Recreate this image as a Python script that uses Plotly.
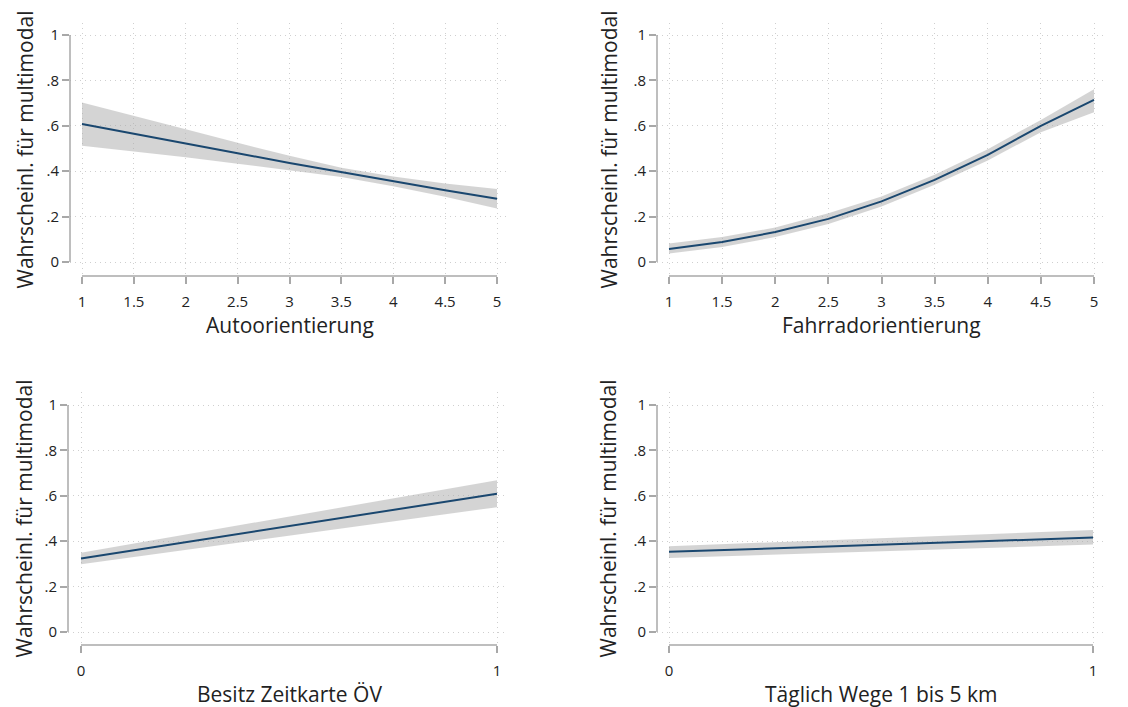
import plotly.graph_objects as go

# the page body adds an 8px offset; the figure is sized and positioned to compensate
OFF = 8
W, H = 1128 - OFF, 707 - OFF

# ---------------- data ----------------
auto_x = [1, 1.5, 2, 2.5, 3, 3.5, 4, 4.5, 5]
auto_y = [0.608, 0.566, 0.523, 0.479, 0.436, 0.395, 0.355, 0.316, 0.279]
auto_lo = [0.512, 0.488, 0.462, 0.433, 0.404, 0.375, 0.334, 0.287, 0.236]
auto_hi = [0.703, 0.645, 0.585, 0.525, 0.468, 0.415, 0.377, 0.346, 0.322]

rad_x = [1, 1.5, 2, 2.5, 3, 3.5, 4, 4.5, 5]
rad_y = [0.057, 0.088, 0.132, 0.190, 0.267, 0.362, 0.472, 0.600, 0.714]
rad_lo = [0.037, 0.066, 0.110, 0.167, 0.245, 0.340, 0.447, 0.572, 0.660]
rad_hi = [0.081, 0.110, 0.152, 0.215, 0.289, 0.384, 0.497, 0.626, 0.761]

oev_x = [0, 1]
oev_y = [0.324, 0.609]
oev_lo = [0.299, 0.550]
oev_hi = [0.349, 0.668]

km_x = [0, 1]
km_y = [0.353, 0.416]
km_lo = [0.326, 0.385]
km_hi = [0.378, 0.449]

y_ticks = [0, 0.2, 0.4, 0.6, 0.8, 1]
y_ticktext = ["0", ".2", ".4", ".6", ".8", "1"]
x_ticks_cont = [1, 1.5, 2, 2.5, 3, 3.5, 4, 4.5, 5]
x_ticktext_cont = ["1", "1.5", "2", "2.5", "3", "3.5", "4", "4.5", "5"]
x_ticks_bin = [0, 1]
x_ticktext_bin = ["0", "1"]

y_title = "Wahrscheinl. für multimodal"
x_titles = ["Autoorientierung", "Fahrradorientierung", "Besitz Zeitkarte ÖV", "Täglich Wege 1 bis 5 km"]

# ---------------- style ----------------
FONT = "Open Sans, Noto Sans, sans-serif"
LINE_C = "#1a476f"
BAND_C = "rgba(170,170,170,0.5)"
AXIS_C = "#a8a8a8"
GRID_C = "#cfcfcf"
TEXT_C = "#222222"

# panel pixel geometry in the 1128x707 picture:
# (left, right, top, bottom, xmin_px, xmax_px, y1_px, y0_px, ytitle_x)
panels = [
    dict(data=(auto_x, auto_y, auto_lo, auto_hi), ticks=(x_ticks_cont, x_ticktext_cont), xlim=(1, 5),
         px=(70, 507, 23, 276, 82, 497, 35, 262), yt=24),
    dict(data=(rad_x, rad_y, rad_lo, rad_hi), ticks=(x_ticks_cont, x_ticktext_cont), xlim=(1, 5),
         px=(657, 1104, 23, 276, 669, 1094, 35, 262), yt=608),
    dict(data=(oev_x, oev_y, oev_lo, oev_hi), ticks=(x_ticks_bin, x_ticktext_bin), xlim=(0, 1),
         px=(68, 508, 392, 645, 81, 497, 405, 632), yt=24),
    dict(data=(km_x, km_y, km_lo, km_hi), ticks=(x_ticks_bin, x_ticktext_bin), xlim=(0, 1),
         px=(657, 1104, 392, 645, 669, 1093, 405, 632), yt=608),
]

fig = go.Figure()
layout = dict(
    width=W, height=H,
    margin=dict(l=0, r=0, t=0, b=0),
    paper_bgcolor="white", plot_bgcolor="white",
    showlegend=False,
    font=dict(family=FONT, color=TEXT_C),
)
shapes = []
annotations = []

for i, p in enumerate(panels):
    n = "" if i == 0 else str(i + 1)
    xa, ya = "x" + n, "y" + n
    L, R, T, B, x0p, x1p, y1p, y0p = [v - OFF for v in p["px"]]
    ytx = p["yt"] - OFF
    xlo, xhi = p["xlim"]
    xs = (x1p - x0p) / (xhi - xlo)
    ys = (y0p - y1p) / 1.0
    xr = [xlo - (x0p - L) / xs, xhi + (R - x1p) / xs]
    yr = [0 - (B - y0p) / ys, 1 + (y1p - T) / ys]

    x, y, lo, hi = p["data"]
    fig.add_trace(go.Scatter(x=x, y=lo, mode="lines", line=dict(width=0, color=BAND_C),
                             xaxis=xa, yaxis=ya, hoverinfo="skip"))
    fig.add_trace(go.Scatter(x=x, y=hi, mode="lines", line=dict(width=0, color=BAND_C),
                             fill="tonexty", fillcolor=BAND_C, xaxis=xa, yaxis=ya, hoverinfo="skip"))
    fig.add_trace(go.Scatter(x=x, y=y, mode="lines", line=dict(width=2, color=LINE_C),
                             xaxis=xa, yaxis=ya))

    tv, tt = p["ticks"]
    layout["xaxis" + n] = dict(
        domain=[L / W, R / W], range=xr, anchor=ya,
        tickmode="array", tickvals=tv, ticktext=tt,
        ticks="outside", ticklen=7, tickwidth=1.5, tickcolor=AXIS_C,
        ticklabelstandoff=5,
        tickfont=dict(size=15, color=TEXT_C, family=FONT),
        showline=False, zeroline=False,
        showgrid=True, gridcolor=GRID_C, griddash="1px,4px", gridwidth=1,
        fixedrange=True,
    )
    layout["yaxis" + n] = dict(
        domain=[1 - B / H, 1 - T / H], range=yr, anchor=xa,
        tickmode="array", tickvals=y_ticks, ticktext=y_ticktext,
        ticks="outside", ticklen=7, tickwidth=1.5, tickcolor=AXIS_C,
        tickfont=dict(size=15, color=TEXT_C, family=FONT),
        showline=False, zeroline=False,
        showgrid=True, gridcolor=GRID_C, griddash="1px,4px", gridwidth=1,
        fixedrange=True,
    )
    # Stata-style axis lines spanning only the data range
    shapes.append(dict(type="line", xref=xa + " domain", yref=ya, x0=0, x1=0, y0=0, y1=1,
                       line=dict(color=AXIS_C, width=1.5)))
    shapes.append(dict(type="line", xref=xa, yref=ya + " domain", x0=xlo, x1=xhi, y0=0, y1=0,
                       line=dict(color=AXIS_C, width=1.5)))
    # axis titles
    annotations.append(dict(text=x_titles[i], xref="paper", yref="paper",
                            x=((x0p + x1p) / 2) / W, y=1 - (B + 49) / H,
                            xanchor="center", yanchor="middle", showarrow=False,
                            font=dict(size=21, color=TEXT_C, family=FONT)))
    annotations.append(dict(text=y_title, xref="paper", yref="paper",
                            x=ytx / W, y=1 - ((T + B) / 2) / H, textangle=-90,
                            xanchor="center", yanchor="middle", showarrow=False,
                            font=dict(size=21, color=TEXT_C, family=FONT)))

layout["shapes"] = shapes
layout["annotations"] = annotations
fig.update_layout(**layout)
fig.write_html("out.html")
